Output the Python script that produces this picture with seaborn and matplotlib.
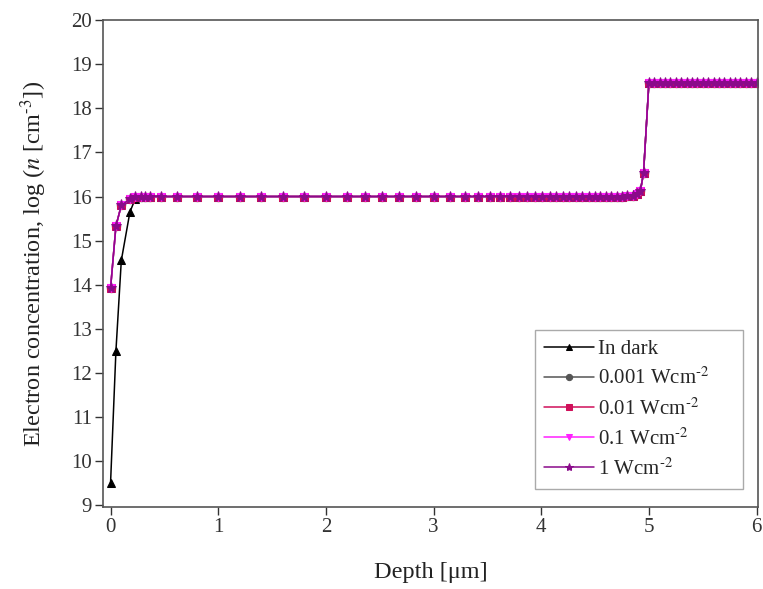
import matplotlib as mpl
import numpy as np
import pandas as pd
import seaborn as sns
import matplotlib.pyplot as plt

# depth mesh (um), refined near the surface and near the 5 um junction
depth = [0, 0.05, 0.1, 0.18, 0.23, 0.28, 0.32, 0.37, 0.47, 0.62,
         0.8, 1.0, 1.2, 1.4, 1.6, 1.8, 2.0, 2.2, 2.36, 2.52,
         2.68, 2.84, 3.0, 3.15, 3.29, 3.41, 3.52, 3.62, 3.71, 3.79,
         3.87, 3.94, 4.01, 4.08, 4.14, 4.2, 4.26, 4.32, 4.38, 4.44,
         4.5, 4.55, 4.6, 4.65, 4.7, 4.75, 4.8, 4.85, 4.89, 4.92,
         4.95, 5.0, 5.05, 5.1, 5.15, 5.2, 5.25, 5.3, 5.35, 5.4,
         5.45, 5.5, 5.55, 5.6, 5.65, 5.7, 5.75, 5.8, 5.85, 5.9,
         5.95, 6.0]

n_dark = [9.5, 12.5, 14.55, 15.65, 15.95, 16.0, 16.0, 16.0, 16.0, 16.0,
          16.0, 16.0, 16.0, 16.0, 16.0, 16.0, 16.0, 16.0, 16.0, 16.0,
          16.0, 16.0, 16.0, 16.0, 16.0, 16.0, 16.0, 16.0, 16.0, 16.0,
          16.0, 16.0, 16.0, 16.0, 16.0, 16.0, 16.0, 16.0, 16.0, 16.0,
          16.0, 16.0, 16.0, 16.0, 16.0, 16.0, 16.01, 16.02, 16.05, 16.12,
          16.53, 18.58, 18.58, 18.58, 18.58, 18.58, 18.58, 18.58, 18.58, 18.58,
          18.58, 18.58, 18.58, 18.58, 18.58, 18.58, 18.58, 18.58, 18.58, 18.58,
          18.58, 18.58]

# all illuminated cases fall on top of each other
n_light = [13.92, 15.33, 15.8, 15.94, 15.98, 16.0, 16.0, 16.0, 16.0, 16.0,
           16.0, 16.0, 16.0, 16.0, 16.0, 16.0, 16.0, 16.0, 16.0, 16.0,
           16.0, 16.0, 16.0, 16.0, 16.0, 16.0, 16.0, 16.0, 16.0, 16.0,
           16.0, 16.0, 16.0, 16.0, 16.0, 16.0, 16.0, 16.0, 16.0, 16.0,
           16.0, 16.0, 16.0, 16.0, 16.0, 16.0, 16.01, 16.02, 16.05, 16.12,
           16.53, 18.58, 18.58, 18.58, 18.58, 18.58, 18.58, 18.58, 18.58, 18.58,
           18.58, 18.58, 18.58, 18.58, 18.58, 18.58, 18.58, 18.58, 18.58, 18.58,
           18.58, 18.58]

labels = ["In dark", "0.001 Wcm$^{\u20102}$", "0.01 Wcm$^{\u20102}$",
          "0.1 Wcm$^{\u20102}$", "1 Wcm$^{\u20102}$"]
series = [n_dark, n_light, n_light, n_light, n_light]
colors = ["black", "#555555", "#d0105a", "#ff20ff", "#8a0a8a"]
markers = ["^", "o", "s", "v", "*"]
msizes = [6, 6, 6, 6, 8]

sns.set_style("ticks")
plt.rcParams["font.family"] = ["Liberation Serif", "DejaVu Serif"]
plt.rcParams["mathtext.fontset"] = "stix"

fig = plt.figure(figsize=(7.63, 5.89), dpi=100)
ax = fig.add_axes([0.135, 0.139, 0.858, 0.827])

for lab, vals, c, m, ms in zip(labels, series, colors, markers, msizes):
    df = pd.DataFrame({"depth": depth, "n": vals})
    sns.lineplot(data=df, x="depth", y="n", ax=ax, color=c, marker=m,
                 markersize=ms, markeredgecolor=c, linewidth=1.1, label=lab)

ax.set_xlim(-0.07, 6.01)
ax.set_ylim(8.96, 20)
ax.set_xticks(range(0, 7))
ax.set_yticks(range(9, 21))
ax.tick_params(direction="out", length=6, width=1, labelsize=15, pad=2,
               colors="#333333", top=False, right=False)
for s in ax.spines.values():
    s.set_color("#555555")
    s.set_linewidth(1.2)
    s.set_visible(True)

ax.set_xlabel("Depth [μm]", fontsize=17.5, color="#222222", labelpad=18)
ax.set_ylabel("Electron concentration, log ($n$ [cm$^{\u20103}$])",
              fontsize=17.5, color="#222222", labelpad=16)

leg = ax.legend(loc="lower left", bbox_to_anchor=(0.66, 0.037, 0.318, 0.3),
                mode="expand", fontsize=15, handlelength=2.4,
                handletextpad=0.15, labelspacing=0.42, markerscale=0.75,
                fancybox=False, framealpha=1, edgecolor="#aaaaaa",
                borderpad=0.45, borderaxespad=0)
leg.get_frame().set_linewidth(1)

fig.savefig("out.png", dpi=100)
